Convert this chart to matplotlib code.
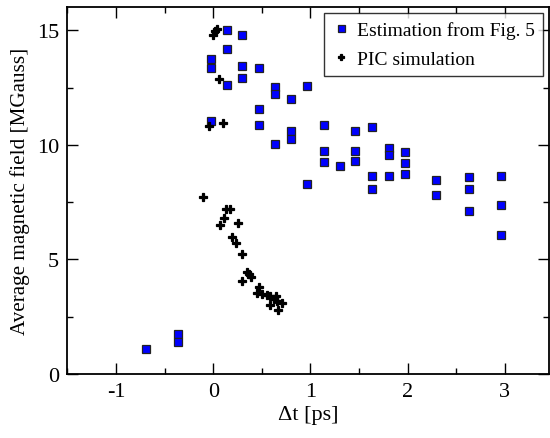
import numpy as np
import matplotlib
matplotlib.use("Agg")
import matplotlib.pyplot as plt
from matplotlib.ticker import MultipleLocator

plt.rcParams["font.family"] = ["Liberation Serif", "DejaVu Serif"]
plt.rcParams["axes.unicode_minus"] = False

# Estimation from Fig. 5 (blue squares)
est_t = [-0.69, -0.36, -0.36,
         -0.02, -0.02, -0.02, 0.14, 0.14, 0.14, 0.30, 0.30, 0.30,
         0.47, 0.47, 0.47, 0.635, 0.635, 0.635, 0.80, 0.80, 0.80,
         0.965, 0.965, 1.14, 1.14, 1.14, 1.305, 1.46, 1.46, 1.46,
         1.63, 1.63, 1.63, 1.81, 1.81, 1.81, 1.97, 1.97, 1.97,
         2.29, 2.29, 2.63, 2.63, 2.63, 2.96, 2.96, 2.96]
est_b = [1.11, 1.75, 1.38,
         13.73, 13.36, 11.05, 15.0, 14.2, 12.63, 14.8, 13.43, 12.93,
         13.36, 11.56, 10.89, 12.53, 12.2, 10.06, 12.0, 10.62, 10.24,
         12.58, 8.29, 10.89, 9.73, 9.25, 9.09, 10.59, 9.74, 9.30,
         10.78, 8.64, 8.07, 9.87, 9.54, 8.65, 9.68, 9.20, 8.72,
         8.47, 7.82, 8.58, 8.08, 7.13, 8.64, 7.37, 6.07]

# PIC simulation (black crosses)
pic_t = [0.0, 0.02, 0.04, 0.06, -0.04, 0.10, -0.10,
         0.13, 0.17, 0.107, 0.072, 0.25, 0.19, 0.234, 0.296,
         0.35, 0.37, 0.39, 0.30, 0.467, 0.45, 0.50, 0.55, 0.584,
         0.63, 0.646, 0.656, 0.71, 0.58, 0.67]
pic_b = [14.8, 14.95, 15.05, 12.86, 10.82, 10.94, 7.72,
         7.21, 7.21, 6.81, 6.51, 6.61, 5.97, 5.71, 5.25,
         4.44, 4.35, 4.22, 4.04, 3.78, 3.52, 3.49, 3.46, 3.42,
         3.27, 3.39, 3.2, 3.08, 3.02, 2.79]


def main():
    fig = plt.figure(figsize=(5.5, 4.39), dpi=100)
    ax = fig.add_axes([0.1225, 0.1458, 0.875, 0.835])

    ax.plot(est_t, est_b, linestyle="none", marker="s", markersize=6.3,
            markerfacecolor="#0000ff", markeredgecolor="#222222",
            markeredgewidth=0.9, label="Estimation from Fig. 5", zorder=3)
    ax.plot(pic_t, pic_b, linestyle="none", marker="P", markersize=5.6,
            color="black", markeredgecolor="black", markeredgewidth=0.9,
            label="PIC simulation", zorder=4)

    ax.set_xlim(-1.5, 3.45)
    ax.set_ylim(0, 16)
    ax.xaxis.set_major_locator(MultipleLocator(1))
    ax.xaxis.set_minor_locator(MultipleLocator(0.5))
    ax.yaxis.set_major_locator(MultipleLocator(5))
    ax.yaxis.set_minor_locator(MultipleLocator(2.5))
    ax.tick_params(which="both", direction="in", top=True, right=True,
                   labelsize=16, width=1.0)
    ax.tick_params(which="major", length=8, pad=6)
    ax.tick_params(which="minor", length=4)
    for s in ax.spines.values():
        s.set_linewidth(1.3)

    ax.set_xlabel("\u0394t [ps]", fontsize=16, labelpad=3)
    ax.set_ylabel("Average magnetic field [MGauss]", fontsize=15.2, labelpad=5)

    leg = ax.legend(loc="upper right", fontsize=14, frameon=True,
                    fancybox=False, borderaxespad=0.3, handletextpad=0.4,
                    handlelength=0.9, borderpad=0.4, labelspacing=0.6,
                    markerscale=0.8)
    leg.get_frame().set_edgecolor("black")
    leg.get_frame().set_linewidth(1.0)

    fig.savefig("out.png", dpi=100)


if __name__ == "__main__":
    main()
